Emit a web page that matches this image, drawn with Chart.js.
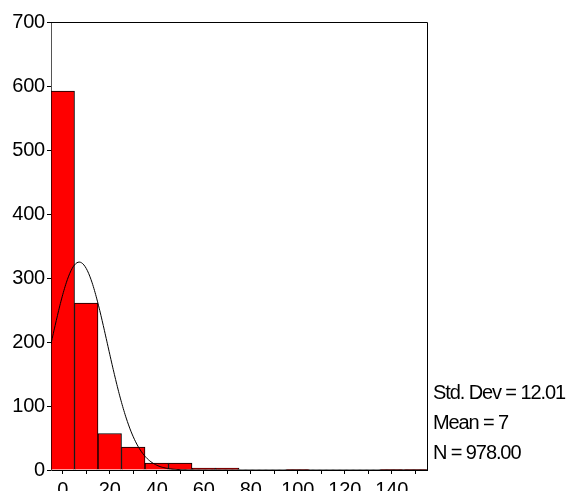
<!DOCTYPE html>
<html>
<head>
<meta charset="utf-8">
<script src="https://cdn.jsdelivr.net/npm/chart.js@4"></script>
<style>
  html, body { margin: 0; padding: 0; background: #fff; }
  #wrap { width: 576px; height: 491px; position: relative; }
</style>
</head>
<body>
<div id="wrap"><canvas id="c" width="576" height="491"></canvas></div>
<script>
// Histogram bins (centre of each 10-unit bin) and counts
const binCenters = [0, 10, 20, 30, 40, 50, 60, 70, 80, 90, 100, 110, 120, 130, 140, 150];
const counts     = [592, 261, 57, 36, 11, 11, 3, 3, 0, 0, 1, 0, 0, 0, 1, 1];
const binWidth = 10;

// Summary statistics shown beside the plot
const stdDev = 12.01;
const mean = 7;
const n = 978;
const statLines = ['Std. Dev = 12.01', 'Mean = 7', 'N = 978.00'];

// Axis ticks
const xTickLabels = [0, 20, 40, 60, 80, 100, 120, 140];
const yTicks = [0, 100, 200, 300, 400, 500, 600, 700];

// Fitted normal curve scaled to counts per bin
const curve = [];
for (let x = -5; x <= 155; x += 0.5) {
  const z = (x - mean) / stdDev;
  curve.push({ x: x, y: n * binWidth * Math.exp(-0.5 * z * z) / (stdDev * Math.sqrt(2 * Math.PI)) });
}

const FONT = 'Liberation Sans, Arial, sans-serif';

const framePlugin = {
  id: 'frame',
  beforeDraw(chart) {
    chart.ctx.letterSpacing = '-0.2px';
  },
  afterDraw(chart) {
    const { ctx, chartArea: a } = chart;
    ctx.save();
    ctx.strokeStyle = '#000';
    ctx.lineWidth = 1;
    ctx.beginPath();
    ctx.moveTo(a.left, a.top + 0.5);
    ctx.lineTo(a.right + 0.5, a.top + 0.5);
    ctx.lineTo(a.right + 0.5, a.bottom + 1);
    ctx.stroke();
    ctx.fillStyle = '#000';
    ctx.font = '20px ' + FONT;
    ctx.letterSpacing = '-1.1px';
    ctx.textBaseline = 'middle';
    ctx.textAlign = 'left';
    statLines.forEach((t, i) => ctx.fillText(t, a.right + 6, 393 + i * 30));
    ctx.restore();
  }
};

new Chart(document.getElementById('c'), {
  data: {
    datasets: [
      {
        type: 'line',
        data: curve,
        borderColor: '#000',
        borderWidth: 1,
        pointRadius: 0,
        tension: 0.3,
        fill: false,
        order: 0
      },
      {
        type: 'bar',
        data: binCenters.map((c, i) => ({ x: c, y: counts[i] })),
        backgroundColor: '#ff0000',
        borderColor: '#000',
        borderWidth: 1,
        barPercentage: 1,
        categoryPercentage: 1,
        order: 1
      }
    ]
  },
  options: {
    responsive: false,
    animation: false,
    layout: { autoPadding: false, padding: { top: 22, right: 149, left: 0, bottom: 0 } },
    plugins: { legend: { display: false }, tooltip: { enabled: false } },
    scales: {
      x: {
        type: 'linear',
        min: -5,
        max: 155,
        offset: false,
        afterFit(s) { s.height = 21; s.paddingLeft = 0; s.paddingRight = 0; },
        afterBuildTicks(s) {
          const t = [];
          for (let v = 0; v <= 150; v += 10) t.push({ value: v });
          s.ticks = t;
        },
        ticks: {
          autoSkip: false,
          maxRotation: 0,
          padding: 4,
          color: '#000',
          font: { family: FONT, size: 20 },
          callback: v => (xTickLabels.includes(v) ? String(v) : '')
        },
        grid: { offset: false, drawOnChartArea: false, drawTicks: true, tickLength: 4, color: '#000' },
        border: { color: '#000', width: 1 }
      },
      y: {
        min: 0,
        max: 700,
        afterFit(s) { s.width = 51; },
        afterBuildTicks(s) { s.ticks = yTicks.map(v => ({ value: v })); },
        ticks: {
          padding: 2,
          color: '#000',
          font: { family: FONT, size: 20 }
        },
        grid: { drawOnChartArea: false, drawTicks: true, tickLength: 4, color: '#000' },
        border: { color: '#555', width: 1 }
      }
    }
  },
  plugins: [framePlugin]
});
</script>
</body>
</html>
